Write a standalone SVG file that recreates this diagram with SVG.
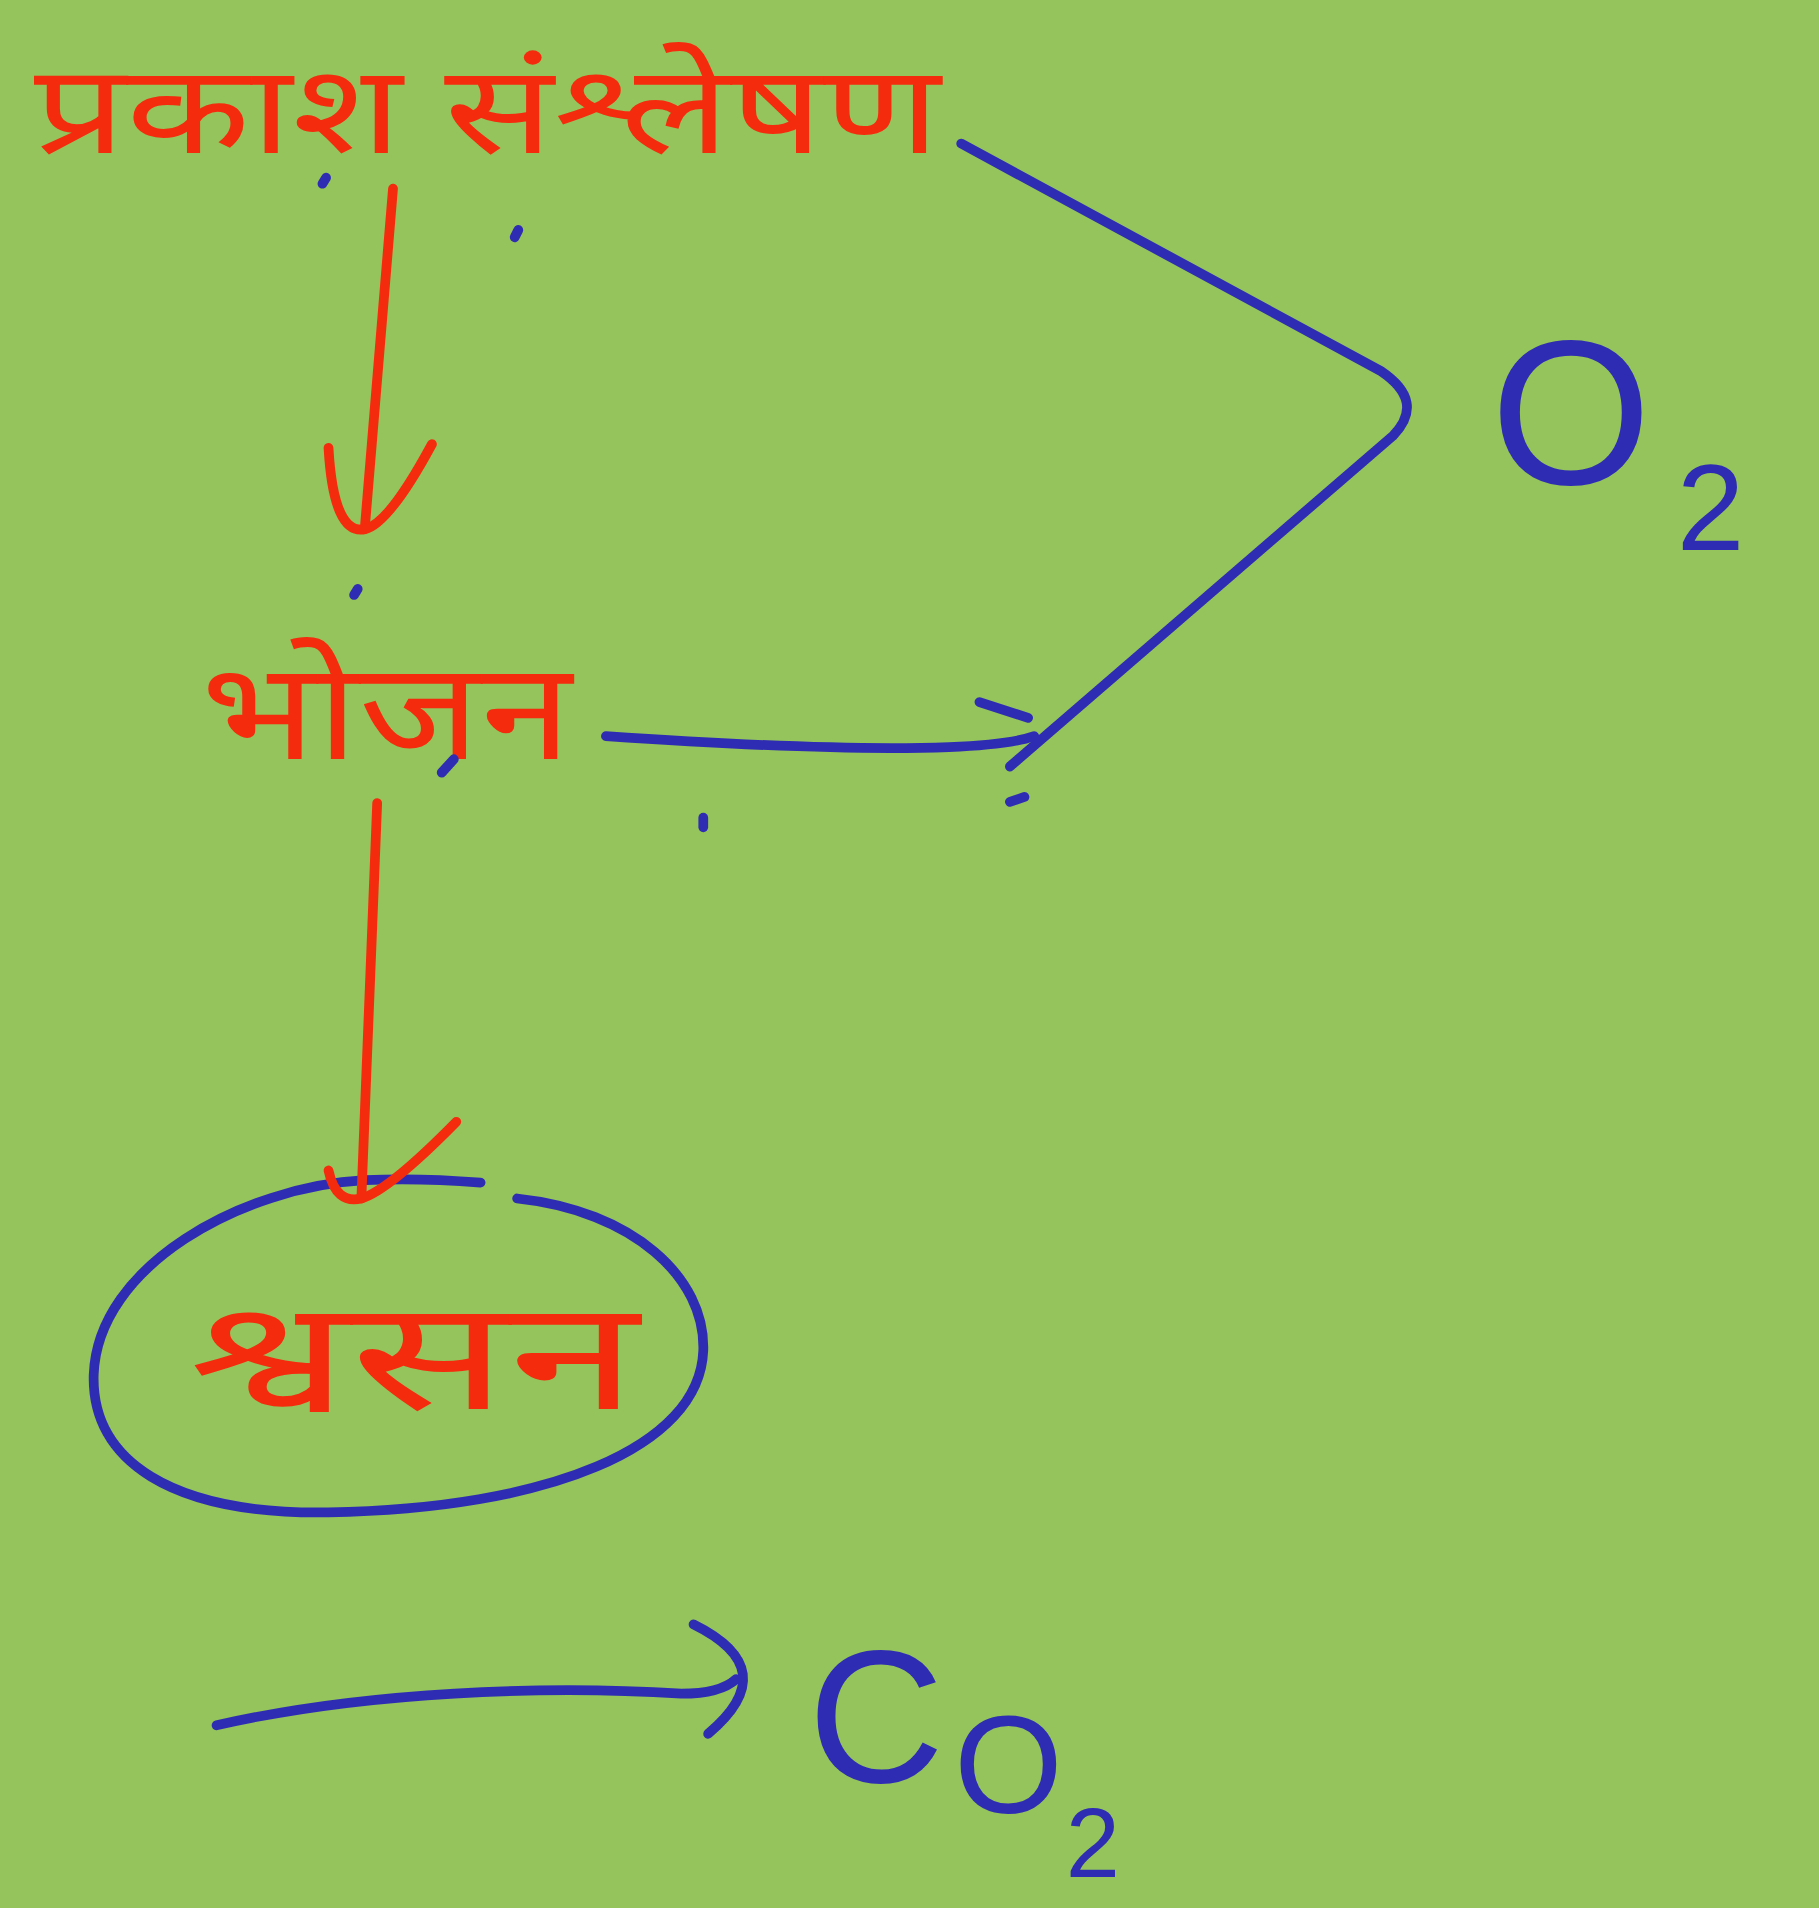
<svg xmlns="http://www.w3.org/2000/svg" width="1819" height="1908" viewBox="0 0 1819 1908">
<style>
.red{fill:none;stroke:#F52B0E;stroke-width:8;stroke-linecap:round;stroke-linejoin:round}
.blue{fill:none;stroke:#2F2CB4;stroke-width:8;stroke-linecap:round;stroke-linejoin:round}
.dot{fill:none;stroke:#2F2CB4;stroke-width:8;stroke-linecap:round}
.hi{font-family:"Noto Sans Devanagari","Lohit Devanagari","Noto Sans",sans-serif;fill:#F52B0E}
.chem{font-family:"Liberation Sans",Arial,sans-serif;fill:#2F2CB4}
</style>
<rect width="1819" height="1908" fill="#94C45B"/>
<g transform="scale(1.21672)">
<g id="photosynthesis">
<text class="hi" x="28" y="126" font-size="102" textLength="745" lengthAdjust="spacingAndGlyphs">प्रकाश संश्लेषण</text>
</g>
<g id="food">
<text class="hi" x="165" y="624" font-size="112" textLength="305" lengthAdjust="spacingAndGlyphs">भोजन</text>
</g>
<g id="respiration">
<path class="blue" d="M425,985 C520,995 580,1050 578,1110 C575,1190 450,1240 270,1243 C140,1245 75,1200 77,1130 C80,1040 200,975 300,970 C340,968 370,970 395,972"/>
<text class="hi" x="155" y="1158" font-size="125" textLength="370" lengthAdjust="spacingAndGlyphs">श्वसन</text>
</g>
<g id="o2">
<text class="chem" x="1225" y="398" font-size="170">O<tspan x="1378" y="452" font-size="100">2</tspan></text>
</g>
<g id="co2">
<text class="chem" x="664" y="1465" font-size="155">C<tspan x="784" y="1490" font-size="115">O</tspan><tspan x="876" y="1543" font-size="80">2</tspan></text>
</g>
<g id="connectors">
<path class="red" d="M323,155 L300,432"/>
<path class="red" d="M270,368 Q274,440 300,435 Q320,430 355,365"/>
<path class="red" d="M310,660 L297,985"/>
<path class="red" d="M270,962 Q276,990 297,985 Q320,978 375,922"/>
<path class="blue" d="M790,118 L1135,305 Q1172,330 1145,358 L830,630"/>
<path class="blue" d="M498,605 C600,612 700,617 780,614 Q830,612 850,605"/>
<path class="blue" d="M805,577 L845,590"/>
<path class="blue" d="M178,1418 C300,1390 450,1385 560,1392 Q592,1392 605,1380"/>
<path class="blue" d="M570,1335 Q645,1372 582,1425"/>
</g>
<g id="marks">
<path class="dot" d="M268,146 L265,151"/>
<path class="dot" d="M426,189 L423,195"/>
<path class="dot" d="M294,484 L291,489"/>
<path class="dot" d="M373,624 L363,635"/>
<path class="dot" d="M578,672 L578,680"/>
<path class="dot" d="M830,659 L842,655"/>
</g>
</g>
</svg>
